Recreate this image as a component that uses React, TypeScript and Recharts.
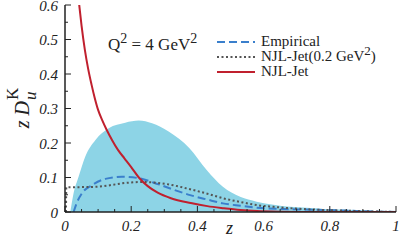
import React from 'react';
import { ComposedChart, Area, Line, XAxis, YAxis, Legend } from 'recharts';

const xTicks = [0, 0.05, 0.1, 0.15, 0.2, 0.25, 0.3, 0.35, 0.4, 0.45, 0.5, 0.55, 0.6, 0.65, 0.7, 0.75, 0.8, 0.85, 0.9, 0.95, 1];
const yTicks = [0, 0.05, 0.1, 0.15, 0.2, 0.25, 0.3, 0.35, 0.4, 0.45, 0.5, 0.55, 0.6];
const xLabels = ['0', '0.2', '0.4', '0.6', '0.8', '1'];
const yLabels = ['0', '0.1', '0.2', '0.3', '0.4', '0.5', '0.6'];

const bandZ = [0.016, 0.025, 0.041, 0.061, 0.092, 0.132, 0.182, 0.223, 0.263, 0.313, 0.376, 0.428, 0.477, 0.529, 0.579, 0.63, 0.68, 0.73, 0.78, 0.83, 0.88, 0.92, 0.95];
const bandV = [0, 0.05, 0.102, 0.16, 0.209, 0.243, 0.259, 0.265, 0.257, 0.233, 0.185, 0.122, 0.073, 0.044, 0.03, 0.021, 0.015, 0.012, 0.009, 0.007, 0.006, 0.004, 0];

const empZ = [0.026, 0.035, 0.051, 0.082, 0.122, 0.172, 0.223, 0.283, 0.33, 0.378, 0.43, 0.477, 0.53, 0.58, 0.68, 0.78, 0.88, 0.95, 1];
const empV = [0, 0.025, 0.054, 0.078, 0.096, 0.102, 0.098, 0.08, 0.064, 0.049, 0.036, 0.025, 0.018, 0.0125, 0.008, 0.006, 0.003, 0.001, 0];

const njl02Z = [0.003, 0.004, 0.03, 0.092, 0.192, 0.233, 0.293, 0.378, 0.43, 0.477, 0.53, 0.58, 0.63, 0.68, 0.78, 0.88, 0.95, 1];
const njl02V = [0, 0.072, 0.072, 0.073, 0.085, 0.087, 0.083, 0.066, 0.053, 0.04, 0.029, 0.02, 0.015, 0.011, 0.006, 0.003, 0.001, 0];

const njlZ = [0.043, 0.05, 0.06, 0.07, 0.08, 0.09, 0.1, 0.112, 0.125, 0.142, 0.16, 0.18, 0.2, 0.223, 0.25, 0.28, 0.32, 0.38, 0.43, 0.48, 0.53, 0.58, 0.65, 0.75, 1];
const njlV = [0.6, 0.54, 0.47, 0.415, 0.37, 0.33, 0.296, 0.267, 0.24, 0.209, 0.18, 0.155, 0.13, 0.1, 0.075, 0.056, 0.04, 0.026, 0.017, 0.011, 0.006, 0.003, 0.001, 0, 0];

const seriesNames = ['Empirical', 'NJL-Jet(0.2 GeV²)', 'NJL-Jet'];

const toRows = (zs: number[], vs: number[]) => zs.map((z, i) => ({ z, v: vs[i] }));
const bandData = toRows(bandZ, bandV);
const empData = toRows(empZ, empV);
const njl02Data = toRows(njl02Z, njl02V);
const njlData = toRows(njlZ, njlV);

const SERIF = "'Times New Roman', 'Liberation Serif', 'DejaVu Serif', serif";
const AX = '#222';

const isMajor = (v: number, step: number) => Math.abs(v / step - Math.round(v / step)) < 1e-6;
const fmt = (v: number, labels: string[]) => {
  const s = String(Math.round(v * 10) / 10);
  return labels.includes(s) ? s : null;
};

const BottomTick = (props: any) => {
  const { x, y, payload } = props;
  const v = payload.value;
  const ay = y - 7;
  const label = isMajor(v, 0.2) ? fmt(v, xLabels) : null;
  const len = isMajor(v, 0.2) ? 6 : 3;
  return (
    <g>
      <line x1={x} x2={x} y1={ay} y2={ay - len} stroke={AX} strokeWidth={1} />
      {label !== null && (
        <text x={x} y={y + 12} textAnchor="middle" style={{ fontFamily: SERIF, fontStyle: 'italic', fontSize: 15 }} fill="#222">{label}</text>
      )}
    </g>
  );
};
const TopTick = (props: any) => {
  const { x, y, payload } = props;
  const len = isMajor(payload.value, 0.2) ? 6 : 3;
  return <line x1={x} x2={x} y1={y} y2={y + len} stroke={AX} strokeWidth={1} />;
};
const LeftTick = (props: any) => {
  const { x, y, payload } = props;
  const v = payload.value;
  const ax = x + 7;
  const major = isMajor(v, 0.1);
  const label = major ? fmt(v, yLabels) : null;
  const len = major ? 6 : 3;
  return (
    <g>
      <line x1={ax} x2={ax + len} y1={y} y2={y} stroke={AX} strokeWidth={1} />
      {label !== null && (
        <text x={x} y={y + 5.5} textAnchor="end" style={{ fontFamily: SERIF, fontStyle: 'italic', fontSize: 15 }} fill="#222">{label}</text>
      )}
    </g>
  );
};
const RightTick = (props: any) => {
  const { x, y, payload } = props;
  const len = isMajor(payload.value, 0.1) ? 6 : 3;
  return <line x1={x} x2={x - len} y1={y} y2={y} stroke={AX} strokeWidth={1} />;
};

const LegendContent = (props: any) => {
  const all = props.payload || [];
  const items = seriesNames.map((n) => all.find((p: any) => p.value === n)).filter(Boolean);
  return (
    <div style={{ fontFamily: SERIF, fontSize: 15, color: '#222', lineHeight: '15px' }}>
      {items.map((p: any) => {
        const dash = p.payload?.strokeDasharray;
        const name: string = p.value;
        const parts = name.split('²');
        return (
          <div key={name} style={{ display: 'flex', alignItems: 'center', height: 15 }}>
            <svg width={40} height={6} style={{ marginRight: 5 }}>
              <line x1={1} x2={39} y1={3} y2={3} stroke={p.color} strokeWidth={2} strokeDasharray={dash} />
            </svg>
            <span style={{ whiteSpace: 'nowrap' }}>
              {parts.length > 1 ? (<>{parts[0]}<sup style={{ fontSize: 13, verticalAlign: 6, lineHeight: 0 }}>2</sup>{parts[1]}</>) : name}
            </span>
          </div>
        );
      })}
    </div>
  );
};

export default function App() {
  return (
    <div style={{ position: 'absolute', left: 0, top: 0, width: 399, height: 240, background: '#fff' }}>
      <ComposedChart width={399} height={240} margin={{ top: 5, right: 3, left: 0, bottom: 0 }}>
        <XAxis xAxisId="b" type="number" dataKey="z" domain={[0, 1]} ticks={xTicks} interval={0} height={28}
          tickSize={0} tickMargin={7} tick={<BottomTick />} tickLine={false} axisLine={{ stroke: AX, strokeWidth: 1.5 }} allowDataOverflow />
        <XAxis xAxisId="t" orientation="top" type="number" dataKey="z" domain={[0, 1]} ticks={xTicks} interval={0} height={0}
          tickSize={0} tickMargin={0} tick={<TopTick />} tickLine={false} axisLine={{ stroke: AX, strokeWidth: 1.5 }} allowDataOverflow />
        <YAxis yAxisId="l" type="number" domain={[0, 0.6]} ticks={yTicks} interval={0} width={65}
          tickSize={0} tickMargin={7} tick={<LeftTick />} tickLine={false} axisLine={{ stroke: AX, strokeWidth: 1.5 }} allowDataOverflow />
        <YAxis yAxisId="r" orientation="right" type="number" domain={[0, 0.6]} ticks={yTicks} interval={0} width={0}
          tickSize={0} tickMargin={0} tick={<RightTick />} tickLine={false} axisLine={{ stroke: AX, strokeWidth: 1.5 }} allowDataOverflow />
        <Area xAxisId="b" yAxisId="l" data={bandData} dataKey="v" type="monotone" fill="#8dd4e6" fillOpacity={1} stroke="none" legendType="none" isAnimationActive={false} name="band" />
        <Line xAxisId="b" yAxisId="l" data={empData} dataKey="v" name={seriesNames[0]} type="monotone" stroke="#3a7fcc" strokeWidth={2} strokeDasharray="8 4" dot={false} isAnimationActive={false} />
        <Line xAxisId="b" yAxisId="l" data={njl02Data} dataKey="v" name={seriesNames[1]} type="monotone" stroke="#555" strokeWidth={2} strokeDasharray="2 2.5" dot={false} isAnimationActive={false} />
        <Line xAxisId="b" yAxisId="l" data={njlData} dataKey="v" name={seriesNames[2]} type="monotone" stroke="#c0202e" strokeWidth={2} dot={false} isAnimationActive={false} />
        <Legend layout="vertical" align="center" verticalAlign="middle" content={<LegendContent />}
          wrapperStyle={{ left: 216, top: 34, width: 180 }} />
      </ComposedChart>
      <div style={{ position: 'absolute', left: 108, top: 35, fontFamily: SERIF, fontSize: 17, color: '#222', whiteSpace: 'nowrap' }}>
        Q<sup style={{ fontSize: 14, verticalAlign: 7, lineHeight: 0 }}>2</sup> = 4 GeV<sup style={{ fontSize: 14, verticalAlign: 7, lineHeight: 0 }}>2</sup>
      </div>
      <div style={{ position: 'absolute', left: 226, top: 218, fontFamily: SERIF, fontStyle: 'italic', fontSize: 18, color: '#222' }}>z</div>
      <div style={{ position: 'absolute', left: 22, top: 108, width: 0, height: 0 }}>
        <div style={{ position: 'absolute', transform: 'translate(-50%, -50%) rotate(-90deg)', fontFamily: SERIF, fontStyle: 'italic', fontSize: 20, color: '#222', whiteSpace: 'nowrap', display: 'flex', alignItems: 'center' }}>
          <span>z</span>
          <span style={{ marginLeft: 5 }}>D</span>
          <span style={{ display: 'inline-flex', flexDirection: 'column', lineHeight: '14px', fontSize: 17, marginLeft: 1 }}>
            <span style={{ fontStyle: 'normal', position: 'relative', top: -2 }}>K</span>
            <span style={{ position: 'relative', top: 2 }}>u</span>
          </span>
        </div>
      </div>
    </div>
  );
}
